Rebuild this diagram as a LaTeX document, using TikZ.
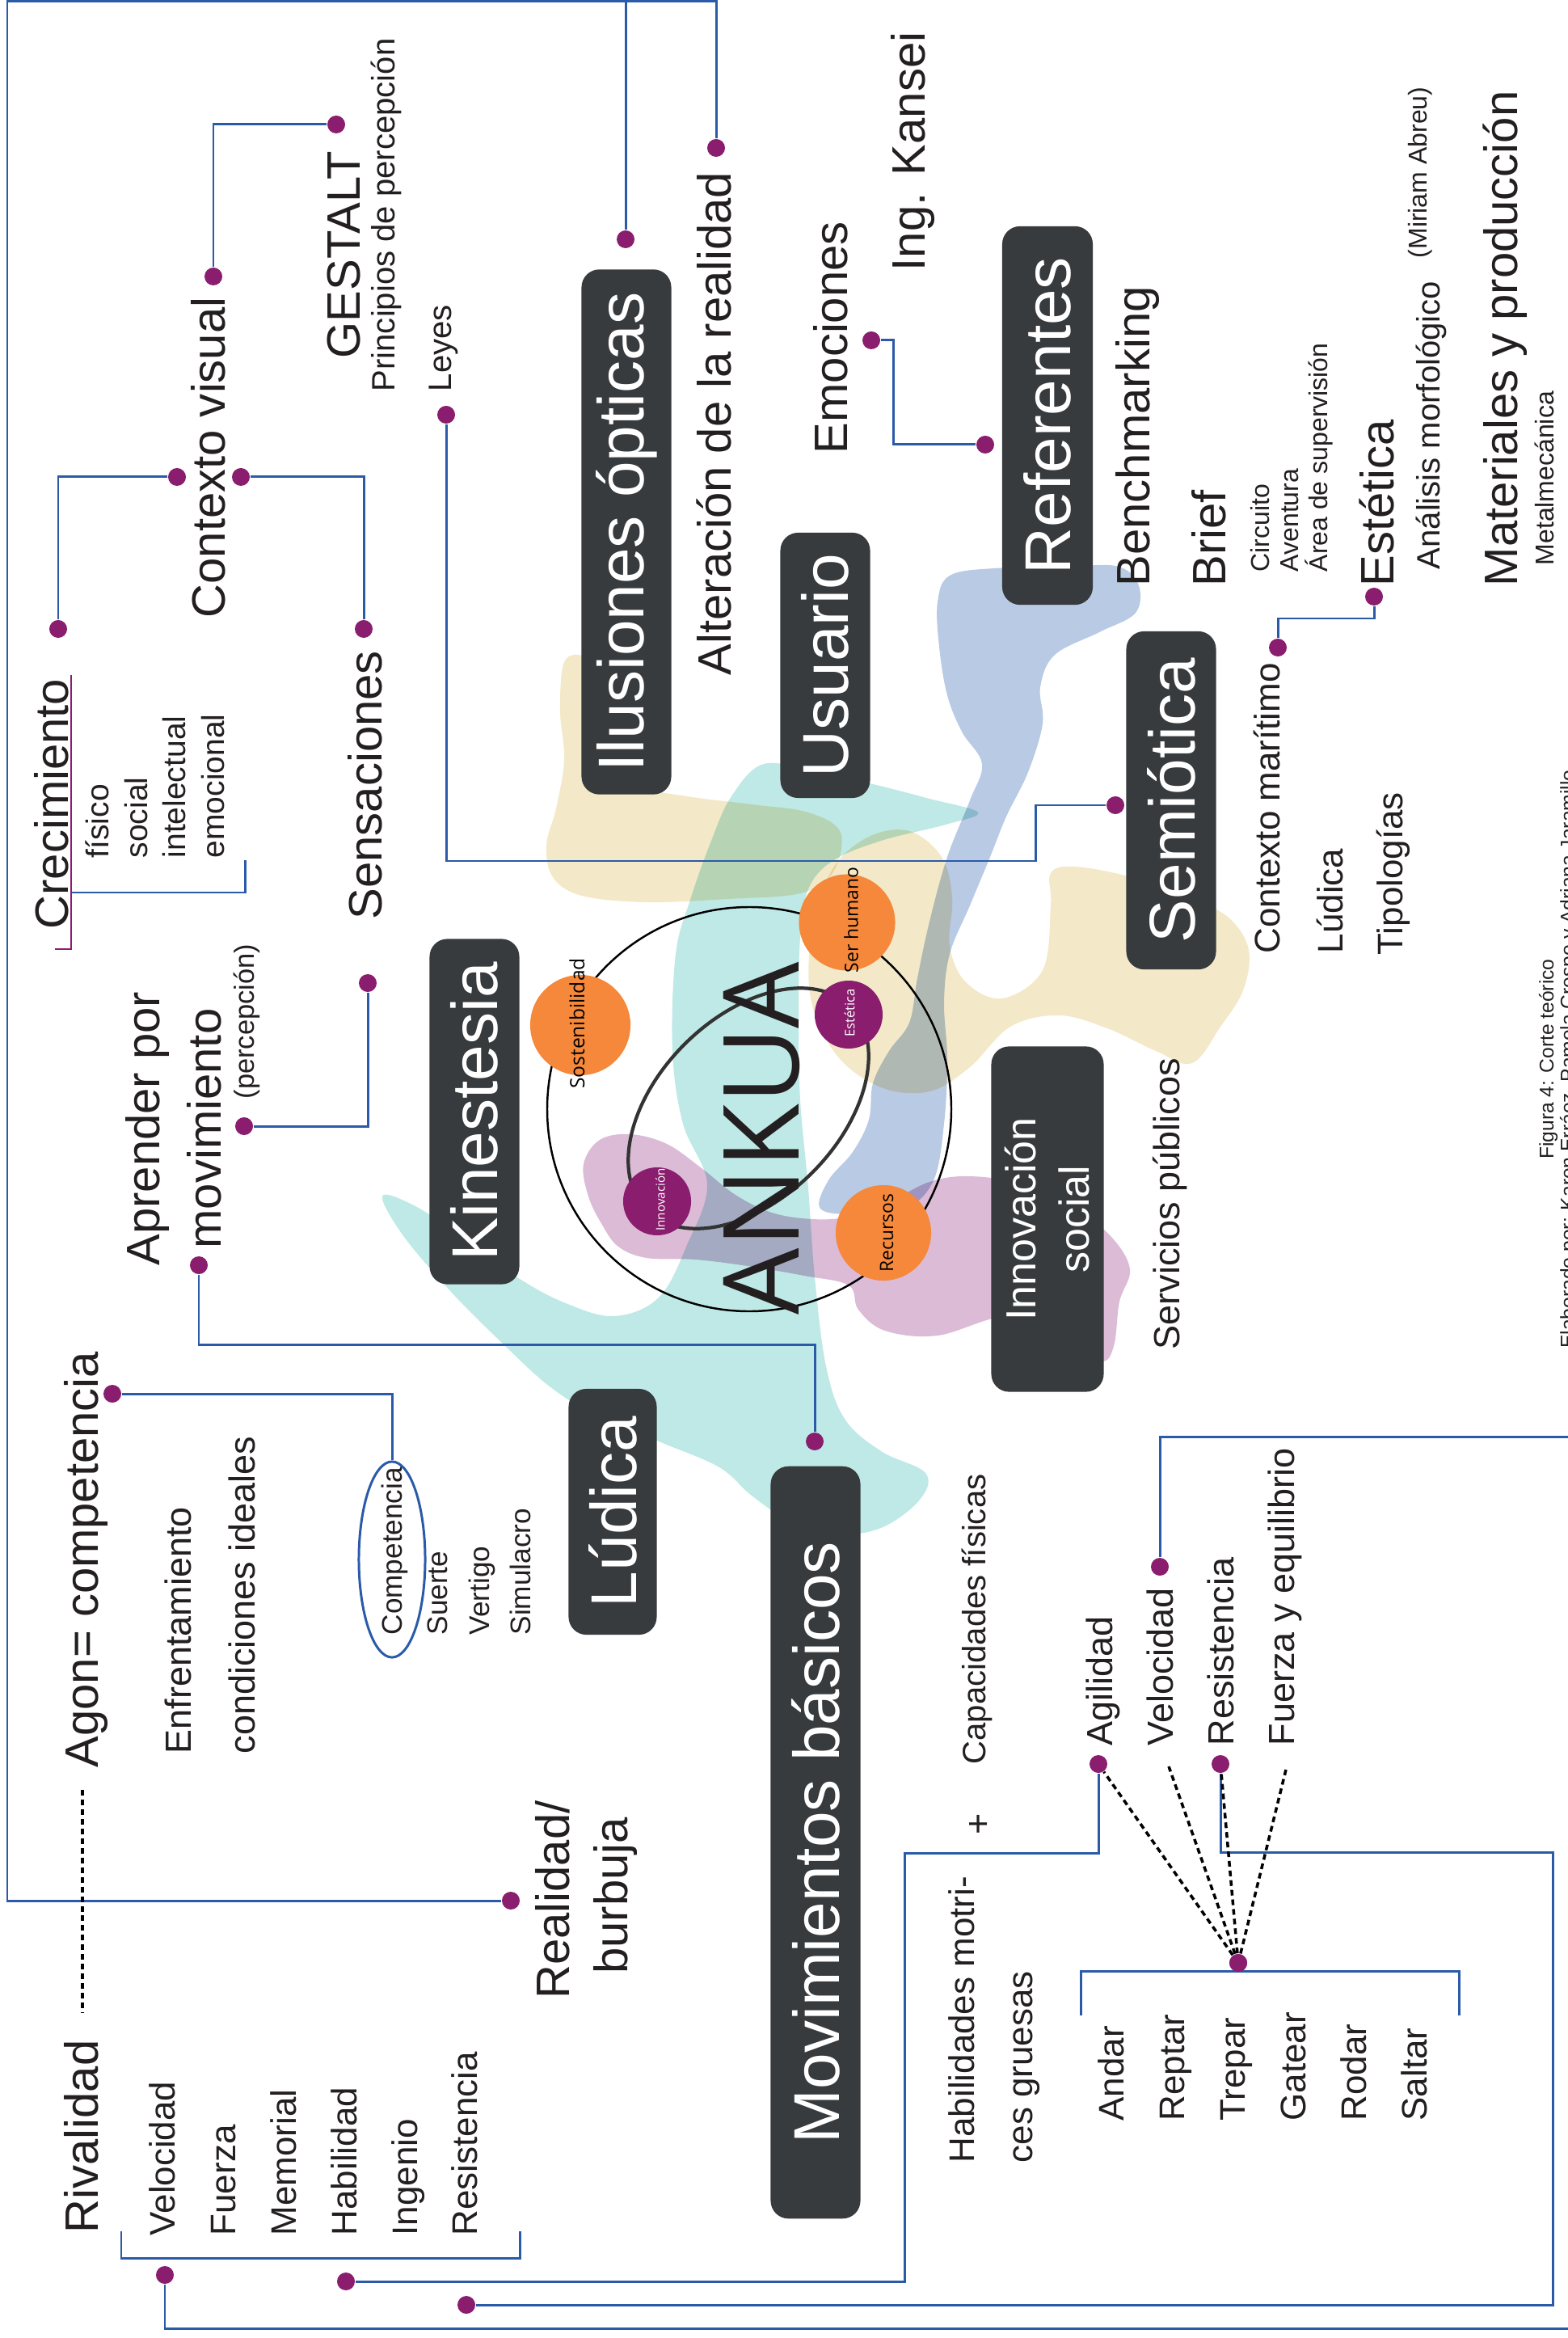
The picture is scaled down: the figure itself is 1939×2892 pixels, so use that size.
\documentclass[tikz,border=0pt]{standalone}
\usepackage{fontspec}
\setmainfont{Liberation Sans}
\newfontfamily\osans{Open Sans}
\usetikzlibrary{shapes.geometric}
\definecolor{linec}{HTML}{2B5BA8}
\definecolor{dotc}{HTML}{8A1D6E}
\definecolor{boxc}{HTML}{383B3E}
\definecolor{txtc}{HTML}{231F20}
\definecolor{orangec}{HTML}{F5883A}
\definecolor{tealc}{HTML}{BFE9E6}
\definecolor{bluec}{HTML}{B8CAE4}
\definecolor{mauvec}{HTML}{DBBBD6}
\definecolor{beigec}{HTML}{F3E9C8}
\newcommand\myfs[1]{\fontsize{#1}{#1}\selectfont}
\begin{document}
\begin{tikzpicture}[x=0.01cm,y=-0.01cm,
 conn/.style={draw=linec,line width=0.85pt},
 pdot/.style={circle,fill=dotc,inner sep=0pt,minimum size=0.22cm},
 tlbl/.style={rotate=90,inner sep=0pt,text=txtc,anchor=base west},
 tbig/.style={tlbl,font=\myfs{16.5}},
 tmed/.style={tlbl,font=\myfs{12.8}},
 tmedb/.style={tlbl,font=\myfs{12.5}},
 tsml/.style={tlbl,font=\myfs{11.4}},
 tcre/.style={tlbl,font=\myfs{11.1}},
 tcmp/.style={tlbl,font=\myfs{10}},
 ttiny/.style={tlbl,font=\myfs{9.1}},
 dbox/.style={rotate=90,fill=boxc,rounded corners=0.22cm,text=white,inner sep=0pt,font=\myfs{22.8}},
 dashln/.style={draw=black,line width=1pt,dash pattern=on 2pt off 1.4pt},
 orb/.style={circle,fill=orangec,inner sep=0pt},
 purb/.style={circle,fill=dotc,inner sep=0pt},
]
\useasboundingbox (0,0) rectangle (1939,2892);
\fill[white] (0,0) rectangle (1939,2892);

% ---------- background blobs ----------
\begin{scope}[blend mode=multiply]
\fill[tealc] plot[smooth cycle,tension=0.6] coordinates {(945,945) (1010,955) (1080,970) (1150,988) (1210,1005) (1170,1020) (1090,1040) (1030,1065) (1000,1100) (990,1160) (988,1260) (990,1360) (1000,1470) (1008,1580) (1022,1690) (1045,1755) (1090,1795) (1145,1822) (1138,1855) (1090,1890) (1030,1898) (975,1880) (930,1850) (890,1815) (820,1785) (740,1752) (680,1715) (620,1660) (560,1600) (500,1530) (473,1480) (510,1490) (570,1528) (640,1580) (700,1612) (760,1628) (815,1605) (850,1540) (875,1465) (845,1390) (832,1300) (836,1180) (855,1110) (880,1040) (905,985)};
\fill[beigec] plot[smooth cycle,tension=0.6] coordinates {(697,822) (715,810) (738,826) (752,875) (762,930) (795,972) (850,985) (930,995) (1000,1005) (1040,1030) (1030,1080) (990,1105) (900,1112) (800,1116) (720,1108) (684,1085) (676,1045) (688,1000) (698,940) (693,880)};
\fill[beigec] plot[smooth cycle,tension=0.6] coordinates {(1005,1150) (1030,1075) (1075,1035) (1125,1028) (1165,1060) (1178,1110) (1175,1170) (1195,1215) (1240,1235) (1290,1200) (1300,1120) (1300,1080) (1330,1072) (1400,1085) (1470,1110) (1520,1135) (1545,1175) (1538,1225) (1510,1270) (1475,1315) (1430,1300) (1370,1272) (1310,1256) (1250,1270) (1200,1320) (1150,1350) (1090,1345) (1035,1305) (1003,1235)};
\fill[bluec] plot[smooth cycle,tension=0.6] coordinates {(1160,745) (1175,712) (1230,703) (1310,702) (1380,700) (1408,722) (1405,758) (1360,782) (1305,810) (1287,850) (1290,895) (1272,955) (1245,1010) (1225,1060) (1200,1120) (1175,1180) (1168,1240) (1172,1310) (1168,1390) (1155,1460) (1120,1495) (1060,1502) (1015,1495) (1025,1460) (1055,1425) (1075,1385) (1080,1340) (1100,1300) (1125,1265) (1135,1210) (1150,1140) (1172,1060) (1200,990) (1215,945) (1190,905) (1172,860) (1162,800)};
\fill[mauvec] plot[smooth cycle,tension=0.6] coordinates {(722,1440) (742,1410) (780,1403) (825,1415) (868,1445) (910,1478) (955,1500) (1005,1508) (1050,1505) (1100,1487) (1150,1462) (1200,1455) (1265,1465) (1330,1495) (1375,1530) (1398,1570) (1385,1610) (1378,1665) (1362,1684) (1320,1660) (1250,1628) (1160,1652) (1095,1646) (1062,1620) (1050,1590) (995,1578) (925,1566) (860,1558) (800,1556) (765,1542) (745,1515) (728,1480)};
\end{scope}

% ---------- central ANKUA emblem ----------
\draw[line width=0.7pt,black] (927,1372) circle [radius=250];
\draw[line width=1.2pt,black!80,rotate around={45:(926,1371)}] (926,1371) ellipse [x radius=178,y radius=112];
\node[orb,minimum size=1.24cm] (cSost) at (718,1268) {};
\node[orb,minimum size=1.19cm] (cSer) at (1048,1141) {};
\node[orb,minimum size=1.18cm] (cRec) at (1093,1525) {};
\node[purb,minimum size=0.84cm] (cEst) at (1050,1255) {};
\node[purb,minimum size=0.84cm] (cInn) at (813,1486) {};
\node[rotate=90,inner sep=0pt,font=\osans\myfs{7}] (tSost) at (714,1266) {Sostenibilidad};
\node[rotate=90,inner sep=0pt,font=\osans\myfs{6.5}] (tSer) at (1053,1138) {Ser humano};
\node[rotate=90,inner sep=0pt,font=\osans\myfs{6.5}] (tRec) at (1097,1525) {Recursos};
\node[rotate=90,inner sep=0pt,font=\osans\myfs{4.7},text=white] (tEst) at (1051,1253) {Estética};
\node[rotate=90,inner sep=0pt,font=\osans\myfs{4.3},text=white] (tInn) at (817,1484) {Innovación};
\node[rotate=90,inner sep=0pt,font=\osans\myfs{37},text=txtc] (ankua) at (942,1408) {ANKUA};

% ---------- boxes ----------
\node[dbox,minimum width=6.49cm,minimum height=1.11cm] (bIlu) at (775,658) {Ilusiones ópticas};
\node[dbox,minimum width=3.28cm,minimum height=1.11cm] (bUsu) at (1021,823) {Usuario};
\node[dbox,minimum width=4.68cm,minimum height=1.12cm] (bRef) at (1296,514) {Referentes};
\node[dbox,minimum width=4.18cm,minimum height=1.11cm] (bSem) at (1449,990) {Semiótica};
\node[dbox,minimum width=4.27cm,minimum height=1.11cm] (bKin) at (587,1375) {Kinestesia};
\node[dbox,minimum width=4.27cm,minimum height=1.39cm,font=\fontsize{14.8}{18.8}\selectfont,align=center] (bInn) at (1296,1508) {Innovación\\social};
\node[dbox,minimum width=3.04cm,minimum height=1.09cm] (bLud) at (758,1870) {Lúdica};
\node[dbox,minimum width=9.30cm,minimum height=1.11cm] (bMov) at (1009,2279) {Movimientos básicos};

% ---------- texts ----------
\node[tbig] (gestalt) at (445,444) {GESTALT};
\node[tsml] (princ) at (488,485) {Principios de percepción};
\node[tsml] (leyes) at (558,485) {Leyes};
\node[tbig] (ctxv) at (278,765) {Contexto visual};
\node[tbig] (crec) at (84,1150) {Crecimiento};
\node[tcre] (fis) at (134,1062) {físico};
\node[tcre] (soc) at (182,1062) {social};
\node[tcre] (intel) at (229,1062) {intelectual};
\node[tcre] (emoci) at (277,1062) {emocional};
\node[tbig] (sens) at (472,1138) {Sensaciones};
\node[tbig,anchor=base] (apr1) at (197,1396) {Aprender por};
\node[tbig,anchor=base] (apr2) at (273,1396) {movimiento};
\node[tlbl,font=\myfs{9.8}] (perc) at (314,1360) {(percepción)};
\node[tbig] (agon) at (121,2187) {Agon= competencia};
\node[tmed] (enfr) at (236,2170) {Enfrentamiento};
\node[tmed] (cond) at (315,2170) {condiciones ideales};
\node[draw=linec,line width=0.85pt,ellipse,minimum width=0.82cm,minimum height=2.42cm,inner sep=0pt] (compell) at (485,1929) {};
\node[tcmp] (compt) at (497,2023) {Competencia};
\node[tcmp] (suerte) at (553,2023) {Suerte};
\node[tcmp] (vert) at (605,2023) {Vertigo};
\node[tcmp] (simu) at (656,2023) {Simulacro};
\node[tbig] (riv) at (121,2763) {Rivalidad};
\node[tmedb] (lv1) at (216,2766) {Velocidad};
\node[tmedb] (lv2) at (291,2766) {Fuerza};
\node[tmedb] (lv3) at (366,2766) {Memorial};
\node[tmedb] (lv4) at (441,2766) {Habilidad};
\node[tmedb] (lv5) at (516,2766) {Ingenio};
\node[tmedb] (lv6) at (590,2766) {Resistencia};
\node[tbig,anchor=base] (real1) at (704,2350) {Realidad/};
\node[tbig,anchor=base] (real2) at (776,2345) {burbuja};

\node[tbig] (alter) at (904,836) {Alteración de la realidad};
\node[tbig] (emoc) at (1048,562) {Emociones};
\node[tbig] (kansei) at (1144,336) {Ing. Kansei};
\node[tbig] (bench) at (1422,726) {Benchmarking};
\node[tbig] (brief) at (1516,726) {Brief};
\node[ttiny] (circ) at (1570,708) {Circuito};
\node[ttiny] (avent) at (1606,708) {Aventura};
\node[ttiny] (area) at (1642,708) {Área de supervisión};
\node[tbig] (estet) at (1724,726) {Estética};
\node[tsml] (anal) at (1781,705) {Análisis morfológico};
\node[ttiny] (miriam) at (1765,320) {(Miriam Abreu)};
\node[tbig] (mater) at (1877,726) {Materiales y producción};
\node[ttiny] (metal) at (1922,700) {Metalmecánica};
\node[tmedb] (ctxm) at (1583,1180) {Contexto marítimo};
\node[tmedb] (ludr) at (1661,1180) {Lúdica};
\node[tmedb] (tipo) at (1735,1182) {Tipologías};
\node[tmed] (serv) at (1459,1670) {Servicios públicos};
\node[tlbl,font=\myfs{7},anchor=base] (fig1) at (1922,1310) {Figura 4: Corte teórico};
\node[tlbl,font=\myfs{7},anchor=base] (fig2) at (1948,1310) {Elaborado por: Karen Erráez, Pamela Crespo y Adriana Jaramillo};

\node[tsml] (capac) at (1219,2183) {Capacidades físicas};
\node[rotate=90,inner sep=0pt,font=\myfs{12.8},text=txtc] (plus) at (1212,2256) {+};
\node[tmed] (agil) at (1376,2160) {Agilidad};
\node[tmed] (velo) at (1451,2160) {Velocidad};
\node[tmed] (resi) at (1526,2160) {Resistencia};
\node[tmed] (fuer) at (1601,2160) {Fuerza y equilibrio};
\node[tmedb] (habm) at (1205,2676) {Habilidades motri-};
\node[tmedb] (cesg) at (1277,2676) {ces gruesas};
\node[tmedb] (andar) at (1390,2624) {Andar};
\node[tmedb] (reptar) at (1465,2624) {Reptar};
\node[tmedb] (trepar) at (1540,2624) {Trepar};
\node[tmedb] (gatear) at (1615,2624) {Gatear};
\node[tmedb] (rodar) at (1690,2624) {Rodar};
\node[tmedb] (saltar) at (1765,2624) {Saltar};

% ---------- dots ----------
\node[pdot] (dAlt) at (886,183) {};
\node[pdot] (dIlu) at (774,296) {};
\node[pdot] (dReal) at (632,2351) {};
\node[pdot] (dGes) at (416,154) {};
\node[pdot] (dCvT) at (264,342) {};
\node[pdot] (dCvL) at (219,590) {};
\node[pdot] (dCvR) at (298,590) {};
\node[pdot] (dCrec) at (72,778) {};
\node[pdot] (dSens) at (450,778) {};
\node[pdot] (dLey) at (552,513) {};
\node[pdot] (dSem) at (1380,996) {};
\node[pdot] (dEmo) at (1078,421) {};
\node[pdot] (dRef) at (1219,550) {};
\node[pdot] (dEst) at (1700,738) {};
\node[pdot] (dCm) at (1581,801) {};
\node[pdot] (dAp1) at (455,1216) {};
\node[pdot] (dAp2) at (302,1393) {};
\node[pdot] (dAp3) at (246,1565) {};
\node[pdot] (dMov) at (1008,1783) {};
\node[pdot] (dAgon) at (139,1724) {};
\node[pdot] (dAgi) at (1359,2182) {};
\node[pdot] (dRes) at (1510,2182) {};
\node[pdot] (dVel) at (1435,1938) {};
\node[pdot] (dTre) at (1532,2428) {};
\node[pdot] (dB1) at (204,2814) {};
\node[pdot] (dB2) at (428,2822) {};
\node[pdot] (dB3) at (577,2851) {};

% ---------- connectors ----------
\coordinate (cTL) at (9,2);
\draw[conn] (dReal) -| (cTL) -| (dAlt);
\draw[conn] (dIlu) |- (cTL);
\draw[conn] (dGes) -| (dCvT);
\draw[conn] (dCvL) -| (dCrec);
\draw[conn] (dCvR) -| (dSens);
\coordinate (cLey) at (1281,1065);
\draw[conn] (dLey) |- (cLey) |- (dSem);
\coordinate (cEmo) at (1105,550);
\draw[conn] (dEmo) -| (cEmo) -- (dRef);
\coordinate (cEst) at (1581,765);
\draw[conn] (dEst) |- (cEst) -- (dCm);
\draw[conn] (dAp1) |- (dAp2);
\coordinate (cAp) at (1008,1663);
\draw[conn] (dAp3) |- (cAp) -- (dMov);
\draw[conn] (dAgon) -| (compell.north);
\coordinate (cAgi) at (1119,2292);
\draw[conn] (dAgi) |- (cAgi) |- (dB2);
\coordinate (cRes) at (1921,2291);
\draw[conn] (dRes) |- (cRes) |- (dB3);
\coordinate (cVel) at (1950,1777);
\coordinate (cVelB) at (204,2880);
\draw[conn] (dVel) |- (cVel) |- (cVelB) -- (dB1);
% brackets
\coordinate (bCa) at (88,1104);
\coordinate (bCb) at (303,1064);
\draw[conn] (bCa) -| (bCb);
\coordinate (mCa) at (88,835);
\coordinate (mCb) at (68,1174);
\draw[draw=dotc,line width=0.85pt] (mCa) |- (mCb);
\coordinate (bLa) at (150,2760);
\coordinate (bLb) at (643,2793);
\coordinate (bLc) at (643,2760);
\draw[conn] (bLa) |- (bLb) -- (bLc);
\coordinate (bAa) at (1337,2493);
\coordinate (bAb) at (1805,2438);
\coordinate (bAc) at (1805,2493);
\draw[conn] (bAa) |- (bAb) -- (bAc);
% dotted rays
\coordinate (eVel) at (1446,2185);
\coordinate (eFue) at (1592,2185);
\draw[dashln] (dTre.center) -- (dAgi);
\draw[dashln] (dTre.center) -- (eVel);
\draw[dashln] (dTre.center) -- (dRes);
\draw[dashln] (dTre.center) -- (eFue);
\node[pdot] at (dTre) {};
\coordinate (rvA) at (102,2214);
\coordinate (rvB) at (102,2490);
\draw[dashln,line width=1.2pt] (rvA) -- (rvB);
\end{tikzpicture}
\end{document}
